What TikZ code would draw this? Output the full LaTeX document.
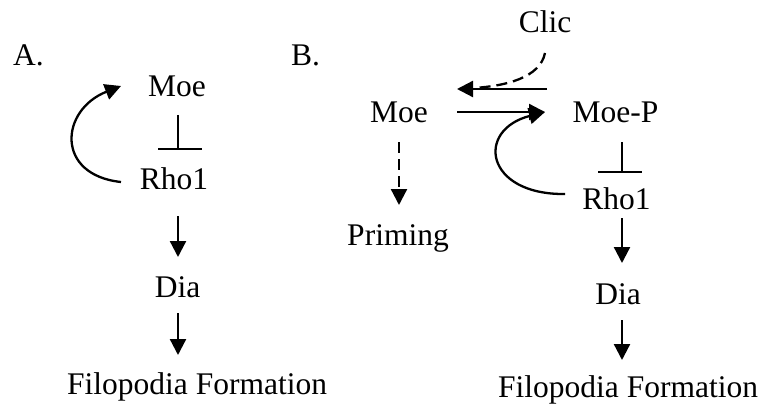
\documentclass[tikz,border=0pt]{standalone}
\usepackage{fontspec}
\setmainfont{Liberation Serif}
\usetikzlibrary{arrows.meta}
\begin{document}
\begin{tikzpicture}[x=1pt,y=-1pt,
  lbl/.style={inner sep=0pt,anchor=base,font=\fontsize{31.5}{36}\selectfont},
  act/.style={line width=2.3pt,-{Triangle[length=16pt,width=16pt]}},
  dact/.style={act,dash pattern=on 11pt off 6pt},
  inh/.style={line width=1.8pt},
]
\useasboundingbox (0,0) rectangle (765,409);
% Panel A
\node[lbl,anchor=base west] (labA) at (13,66) {A.};
\node[lbl] (moeA) at (177,97) {Moe};
\node[lbl] (rhoA) at (174,189) {Rho1};
\node[lbl] (diaA) at (177.5,297) {Dia};
\node[lbl,anchor=base west] (filA) at (67,394) {Filopodia Formation};
\coordinate (iA1) at (178,115);
\coordinate (iA2) at (178,149);
\coordinate (bA1) at (158,149);
\coordinate (bA2) at (202,149);
\draw[inh] (iA1) -- (iA2);
\draw[inh] (bA1) -- (bA2);
\coordinate (a1s) at (178,216); \coordinate (a1e) at (178,257);
\coordinate (a2s) at (178,313); \coordinate (a2e) at (178,355);
\draw[act] (a1s) -- (a1e);
\draw[act] (a2s) -- (a2e);
\coordinate (cAs) at (121,182); \coordinate (cAe) at (121,86);
\draw[act] (cAs) .. controls (55,175) and (60,110) .. (cAe);
% Panel B
\node[lbl,anchor=base west] (labB) at (291,66) {B.};
\node[lbl] (clic) at (545,33) {Clic};
\node[lbl] (moeB) at (399,122) {Moe};
\node[lbl] (moeP) at (615.5,122) {Moe-P};
\node[lbl] (prim) at (398,245) {Priming};
\node[lbl] (rhoB) at (616.5,209) {Rho1};
\node[lbl] (diaB) at (618,304) {Dia};
\node[lbl,anchor=base west] (filB) at (498,397) {Filopodia Formation};
\coordinate (uS) at (547,89); \coordinate (uE) at (457,89);
\coordinate (lS) at (457,112); \coordinate (lE) at (545,112);
\draw[act] (uS) -- (uE);
\draw[act] (lS) -- (lE);
\coordinate (clS) at (545,53);
\draw[line width=2.3pt,dash pattern=on 11pt off 6pt] (clS) .. controls (540,78) and (505,86) .. (474,88);
\coordinate (pS) at (399,142); \coordinate (pE) at (399,205);
\draw[dact] (pS) -- (pE);
\coordinate (iB1) at (622,142); \coordinate (iB2) at (622,172);
\coordinate (bB1) at (598,172); \coordinate (bB2) at (642,172);
\draw[inh] (iB1) -- (iB2);
\draw[inh] (bB1) -- (bB2);
\coordinate (cBs) at (565,194);
\draw[act] (cBs) .. controls (485,195) and (475,130) .. (lE);
\coordinate (b1s) at (622,218); \coordinate (b1e) at (622,263);
\coordinate (b2s) at (622,320); \coordinate (b2e) at (622,360);
\draw[act] (b1s) -- (b1e);
\draw[act] (b2s) -- (b2e);
\end{tikzpicture}
\end{document}
